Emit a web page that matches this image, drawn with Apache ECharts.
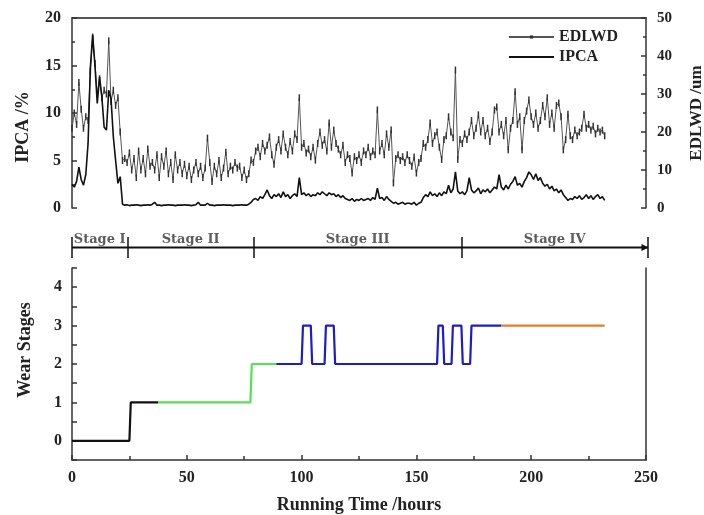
<!DOCTYPE html>
<html>
<head>
<meta charset="utf-8">
<script src="https://cdn.jsdelivr.net/npm/echarts@6/dist/echarts.min.js"></script>
<style>html,body{margin:0;padding:0;background:#fff}#c{width:704px;height:515px}</style>
</head>
<body>
<div id="c"></div>
<script>
// ---- data (hourly samples, hour = index) ----
const edlwd = [
21,25,22,33,26,21,24,23,36,45,
38,30,34,29,31,30,44,28,31,27,
29,20,12.5,13,12,14.5,10,13,8,15,
10,13,9,15.5,11,12,10,14,8,13.5,
11,15,9,12,7.5,14,10,12,9,11.5,
8.5,11,7.5,10,12,9,11,8,10.5,18.4,
12,7,11,9,12.5,8,10.5,14.7,9,11,
10,12,10.5,11,8,10,7.5,9,12.6,12,
15,16,13.5,17,15,16.5,18.7,14,11.5,16,
18,15,19.5,16,14,17.5,15,19.5,18,29,
16,17,14.5,15.5,13.5,16,12.6,17,20,16.5,
18,15,22.4,16,20.5,17,15.5,14,16.5,12,
14,13,9.2,13.5,12.5,14,12,15,14,16,
13.5,15,14,25.8,15,17,14,19.5,16,20.5,
6.6,13,14,12.5,13.5,12,14,12.5,11,13.4,
9.2,12,13,17,16,18,22.4,17,19,20,
16,12.8,18,19,24,20,18.5,36.3,12.8,18,
17,19.5,18,20,23,19,21,24.5,20,23,
19,21,17.5,20,25.8,26.6,20,22,19,23,
15.3,21,23,30.6,22,24,15.3,23,25.5,28.4,
24,22,25,21,23,27,24,29,22,25,
21,27,27.6,24,15.3,18,24.7,19,18,20.5,
19,20,21,24.7,21,22,20.5,21.5,19.5,21,
20,20.5,19
];
const ipca = [
2.5,2.2,2.8,4.3,3.0,2.4,3.5,6.8,14.8,18.2,
15,11,13.8,11.7,8.5,8.2,12.4,11.5,7.5,5,
2.6,3.3,0.4,0.3,0.35,0.25,0.3,0.3,0.35,0.3,
0.25,0.3,0.3,0.35,0.3,0.4,0.6,0.3,0.3,0.25,
0.3,0.3,0.35,0.3,0.3,0.25,0.3,0.3,0.3,0.35,
0.3,0.3,0.25,0.3,0.35,0.6,0.3,0.3,0.3,0.5,
0.3,0.3,0.25,0.3,0.3,0.3,0.35,0.3,0.3,0.3,
0.25,0.3,0.3,0.3,0.35,0.3,0.3,0.4,0.6,0.9,
1.0,0.8,1.2,1.0,1.4,1.9,1.3,1.0,1.4,1.2,
1.5,1.1,1.7,1.2,1.4,1.0,1.3,1.5,1.2,3.2,
1.4,1.6,1.3,1.5,1.2,1.4,1.3,1.6,1.4,1.7,
1.5,1.3,1.6,1.4,1.5,1.2,1.4,1.1,1.3,1.0,
0.9,0.8,1.0,0.7,0.9,0.8,1.0,0.8,0.9,1.0,
0.8,1.1,0.9,2.1,1.0,1.1,0.8,1.2,0.9,0.7,
0.5,0.6,0.4,0.5,0.6,0.4,0.5,0.5,0.4,0.6,
0.3,0.5,0.6,1.1,1.4,1.2,1.7,1.3,1.5,1.2,
1.6,1.3,1.7,1.5,2.4,1.6,2.0,3.8,1.8,1.5,
1.7,1.4,1.8,3.2,1.9,1.6,1.8,2.1,1.5,1.9,
1.7,2.0,1.6,1.9,2.2,2.0,3.5,2.2,1.9,2.4,
2.0,2.5,2.8,3.3,2.4,2.6,2.2,2.8,3.2,3.8,
3.5,3.0,3.6,2.9,3.2,2.6,2.3,2.5,2.0,2.3,
1.8,2.0,1.6,1.9,1.4,1.1,0.8,1.0,0.9,1.2,
1.0,1.3,0.9,1.1,1.4,1.0,1.3,0.9,1.2,1.4,
1.0,1.2,0.8
];
// wear stage segments [hour, stage]
const stageBlack  = [[0,0],[25,0],[25.6,1],[37.5,1]];
const stageGreen  = [[37.5,1],[77.7,1],[78.3,2],[89,2]];
const stageBlue   = [[89,2],[100,2],[100.6,3],[104,3],[104.6,2],[110,2],[110.6,3],[114,3],[114.6,2],
                     [159,2],[159.6,3],[161.5,3],[162.1,2],[165.3,2],[165.9,3],[169.6,3],[170.2,2],
                     [173.4,2],[174,3],[187,3]];
const stageOrange = [[187,3],[232,3]];
// stage boundaries (hours) and names
const stageBounds = [0,24,79,169,250];
const stageNames  = ['Stage I','Stage II','Stage III','Stage IV'];

const FONT = "'Liberation Serif','Times New Roman',serif";
const AX = '#333';
const lbl = (size)=>({fontFamily:FONT,fontWeight:'bold',fontSize:size,color:'#222'});

const edData = edlwd.map((v,i)=>[i,v]);
const ipData = ipca.map((v,i)=>[i,v]);
const stageLabelData = stageNames.map((n,i)=>({value:[(stageBounds[i]+stageBounds[i+1])/2,0.5],name:n}));

const chart = echarts.init(document.getElementById('c'),null,{renderer:'canvas'});
chart.setOption({
  animation:false,
  backgroundColor:'#fff',
  grid:[
    {left:72,right:58,top:18,height:190,outerBoundsMode:'none',containLabel:false},
    {left:72,right:58,top:268,height:192,outerBoundsMode:'none',containLabel:false},
    {left:72,right:56,top:237,height:21,outerBoundsMode:'none',containLabel:false}
  ],
  legend:{
    data:[{name:'EDLWD'},{name:'IPCA',itemStyle:{opacity:0}}],
    orient:'vertical',left:508,top:29,itemWidth:45,itemHeight:4,itemGap:4,
    textStyle:lbl(16),padding:0
  },
  xAxis:[
    {gridIndex:0,type:'value',min:0,max:250,position:'top',
     axisLine:{show:true,onZero:false,lineStyle:{color:'#555',width:2}},axisTick:{show:false},axisLabel:{show:false},splitLine:{show:false}},
    {gridIndex:1,type:'value',min:0,max:250,interval:50,
     axisLine:{show:true,onZero:false,lineStyle:{color:AX,width:1.5}},
     axisTick:{inside:true,length:5,lineStyle:{color:AX,width:1.5}},
     minorTick:{show:true,splitNumber:2,length:4,lineStyle:{color:AX,width:1.5}},
     axisLabel:Object.assign(lbl(16),{margin:10}),
     splitLine:{show:false},
     name:'Running Time /hours',nameLocation:'middle',nameGap:36,nameTextStyle:lbl(18)},
    {gridIndex:2,type:'value',min:0,max:250,show:false}
  ],
  yAxis:[
    {gridIndex:0,type:'value',min:0,max:20,interval:5,
     axisLine:{show:true,onZero:false,lineStyle:{color:AX,width:1.5}},
     axisTick:{inside:true,length:5,lineStyle:{color:AX,width:1.5}},
     minorTick:{show:true,splitNumber:2,length:3,lineStyle:{color:AX,width:1.5}},
     axisLabel:Object.assign(lbl(16),{margin:11}),splitLine:{show:false},
     name:'IPCA /%',nameLocation:'middle',nameGap:40,nameTextStyle:Object.assign(lbl(18),{padding:[0,28,0,0]})},
    {gridIndex:0,type:'value',min:0,max:50,interval:10,position:'right',
     axisLine:{show:true,onZero:false,lineStyle:{color:AX,width:1.5}},
     axisTick:{inside:true,length:5,lineStyle:{color:AX,width:1.5}},
     minorTick:{show:true,splitNumber:2,length:3,lineStyle:{color:AX,width:1.5}},
     axisLabel:Object.assign(lbl(15),{margin:11}),splitLine:{show:false},
     name:'EDLWD /um',nameLocation:'middle',nameGap:42,nameRotate:90,nameTextStyle:Object.assign(lbl(17),{padding:[0,0,0,0]})},
    {gridIndex:1,type:'value',min:-0.5,max:4.5,interval:0.5,
     axisLine:{show:true,onZero:false,lineStyle:{color:AX,width:1.5}},
     axisTick:{inside:true,length:5,lineStyle:{color:AX,width:1.5}},
     axisLabel:Object.assign(lbl(16),{margin:10,formatter:v=>Number.isInteger(v)?String(v):''}),
     splitLine:{show:false},
     name:'Wear Stages',nameLocation:'middle',nameGap:38,nameTextStyle:Object.assign(lbl(18),{padding:[0,0,0,28]})},
    {gridIndex:1,type:'value',min:-0.5,max:4.5,position:'right',
     axisLine:{show:true,onZero:false,lineStyle:{color:AX,width:1.5}},axisTick:{show:false},axisLabel:{show:false},splitLine:{show:false}},
    {gridIndex:2,type:'value',min:0,max:1,show:false}
  ],
  series:[
    {name:'EDLWD',type:'line',xAxisIndex:0,yAxisIndex:1,data:edData,
     symbol:'rect',symbolSize:[1.5,7],showAllSymbol:true,
     itemStyle:{color:'#333'},lineStyle:{color:'#555',width:1},z:2},
    {name:'IPCA',type:'line',xAxisIndex:0,yAxisIndex:0,data:ipData,
     symbol:'none',itemStyle:{color:'#111'},lineStyle:{color:'#111',width:1.6},z:3},
    {type:'line',xAxisIndex:1,yAxisIndex:2,data:stageBlack,symbol:'none',lineStyle:{color:'#111',width:2.2}},
    {type:'line',xAxisIndex:1,yAxisIndex:2,data:stageGreen,symbol:'none',lineStyle:{color:'#55e055',width:2.2}},
    {type:'line',xAxisIndex:1,yAxisIndex:2,data:stageBlue,symbol:'none',lineStyle:{color:'#1c1cc8',width:2.2}},
    {type:'line',xAxisIndex:1,yAxisIndex:2,data:stageOrange,symbol:'none',lineStyle:{color:'#e0802a',width:2.2}},
    {type:'line',xAxisIndex:2,yAxisIndex:4,
     data:[[stageBounds[0],0.5],{value:[stageBounds[stageBounds.length-1],0.5],symbol:'triangle',symbolRotate:-90,symbolSize:[7,7],symbolOffset:[-3,0]}],
     symbol:'none',itemStyle:{color:'#111'},lineStyle:{color:'#111',width:2},
     markLine:{silent:true,symbol:'none',label:{show:false},lineStyle:{color:'#111',width:1.5,type:'solid'},
       data:stageBounds.map(b=>({xAxis:b}))}},
    {type:'scatter',xAxisIndex:2,yAxisIndex:4,data:stageLabelData,symbolSize:0,
     label:{show:true,position:'top',distance:1,formatter:p=>p.name,
       fontFamily:"'DejaVu Serif','Liberation Serif',serif",fontWeight:'bold',fontSize:13,color:'#333'}}
  ]
});
</script>
</body>
</html>
